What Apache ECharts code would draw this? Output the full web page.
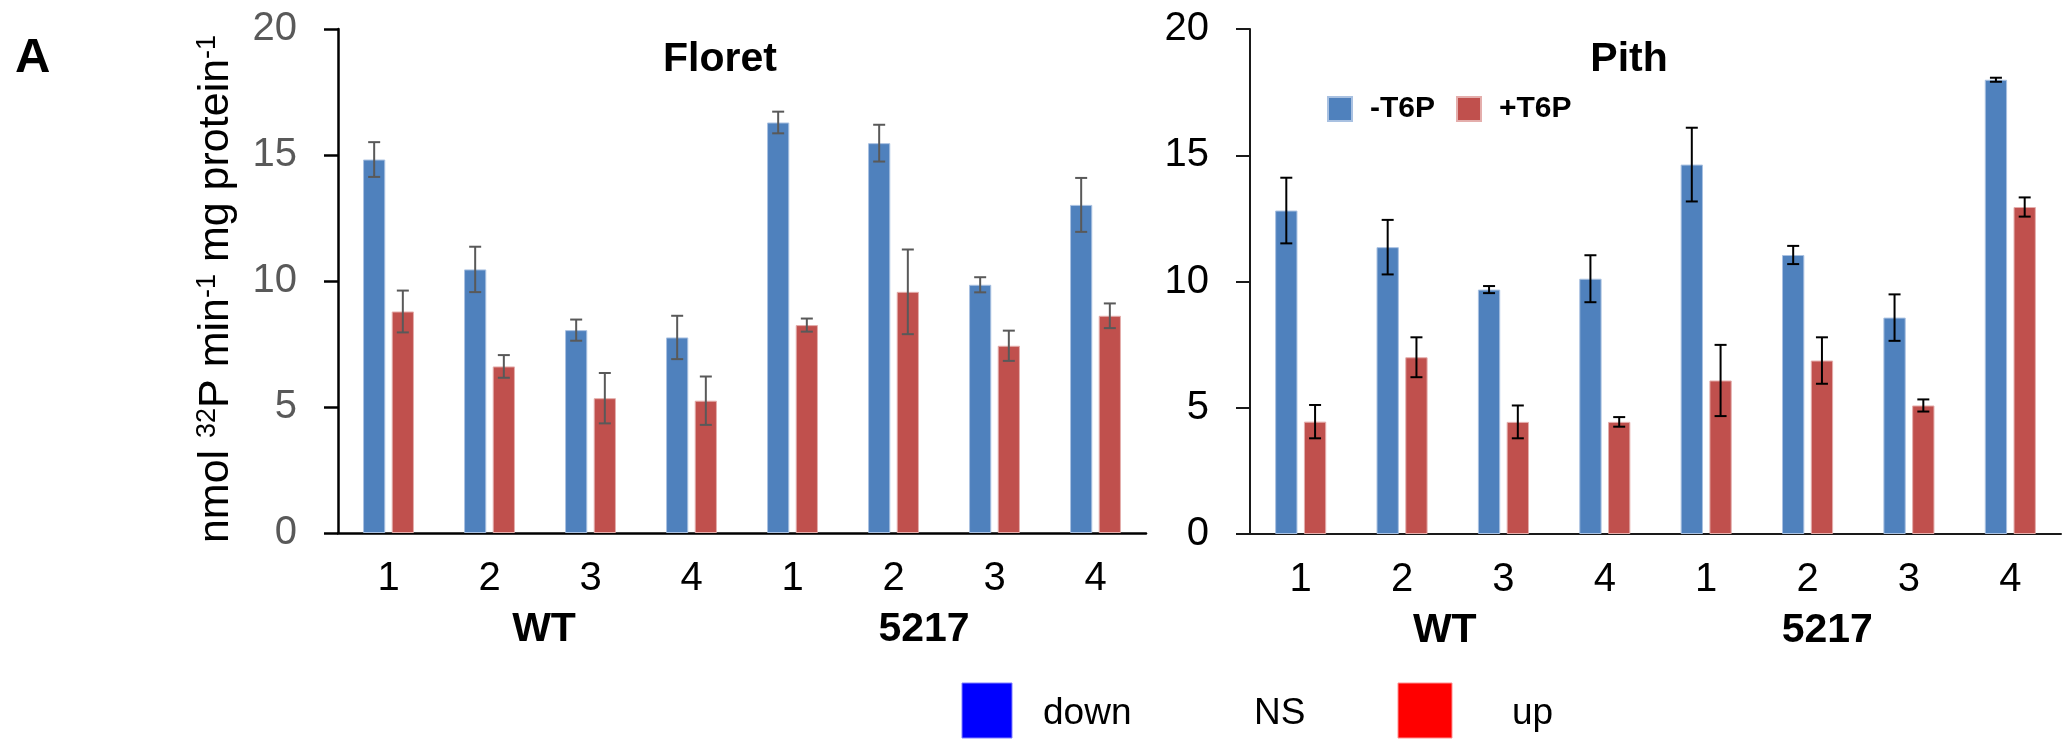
<!DOCTYPE html>
<html>
<head>
<meta charset="utf-8">
<script src="https://cdn.jsdelivr.net/npm/echarts@6/dist/echarts.min.js"></script>
<style>
  html, body { margin: 0; padding: 0; background: #ffffff; }
  #chart { width: 2066px; height: 740px; }
</style>
</head>
<body>
<div id="chart"></div>
<script>
// ---- data ----
const categories = ['1', '2', '3', '4', '1', '2', '3', '4'];
const groups = ['WT', '5217'];
const yTicks = [0, 5, 10, 15, 20];
const seriesNames = ['-T6P', '+T6P'];
const panelTitles = ['Floret', 'Pith'];
const yAxisTitle = ['nmol ', '32', 'P min', '-1', ' mg protein', '-1'];
const keyLabels = ['down', 'NS', 'up'];

// Floret
const floretMinus    = [14.82, 10.46, 8.05, 7.76, 16.29, 15.47, 9.85, 13.02];
const floretMinusErr = [0.69, 0.90, 0.42, 0.86, 0.43, 0.73, 0.30, 1.07];
const floretPlus     = [8.79, 6.61, 5.35, 5.25, 8.25, 9.57, 7.43, 8.62];
const floretPlusErr  = [0.83, 0.45, 1.00, 0.96, 0.26, 1.68, 0.60, 0.49];

// Pith
const pithMinus    = [12.81, 11.36, 9.68, 10.11, 14.63, 11.05, 8.57, 17.99];
const pithMinusErr = [1.30, 1.08, 0.14, 0.93, 1.46, 0.36, 0.92, 0.08];
const pithPlus     = [4.45, 7.00, 4.44, 4.44, 6.08, 6.87, 5.09, 12.95];
const pithPlusErr  = [0.66, 0.79, 0.65, 0.19, 1.41, 0.92, 0.24, 0.38];

// ---- styling / layout ----
const FONT = '"Liberation Sans", Arial, sans-serif';
const BLUE = '#4F81BD';
const RED = '#C0504D';
const BAR_W = 0.22;      // fraction of category band
const BAR_GAP = 0.29;    // fraction of bar width

const panels = [
  { grid: { left: 338, top: 29, width: 808, height: 504 },
    axisColor: '#000', axisWidth: 2.5, tickLabelColor: '#595959', errColor: '#595959',
    titleX: 720, groupShift: [4, -20],
    minus: floretMinus, minusErr: floretMinusErr, plus: floretPlus, plusErr: floretPlusErr },
  { grid: { left: 1250, top: 29, width: 811, height: 505 },
    axisColor: '#1a1a1a', axisWidth: 2, tickLabelColor: '#000', errColor: '#000',
    titleX: 1629, groupShift: [-8, -31],
    minus: pithMinus, minusErr: pithMinusErr, plus: pithPlus, plusErr: pithPlusErr }
];

function errorSeries(name, values, errs, p, side, color) {
  return {
    type: 'custom',
    name: name,
    xAxisIndex: p * 2,
    yAxisIndex: p,
    silent: true,
    z: 5,
    data: values.map((v, i) => [i, v, errs[i]]),
    encode: { x: 0, y: 1 },
    renderItem: function (params, api) {
      const i = api.value(0), v = api.value(1), e = api.value(2);
      const band = api.size([1, 0])[0];
      const off = side * band * (BAR_W + BAR_W * BAR_GAP) / 2;
      const hi = api.coord([i, v + e]);
      const lo = api.coord([i, v - e]);
      const x = hi[0] + off;
      const cap = 6;
      const st = { stroke: color, lineWidth: 2 };
      return {
        type: 'group',
        children: [
          { type: 'line', shape: { x1: x, y1: hi[1], x2: x, y2: lo[1] }, style: st },
          { type: 'line', shape: { x1: x - cap, y1: hi[1], x2: x + cap, y2: hi[1] }, style: st },
          { type: 'line', shape: { x1: x - cap, y1: lo[1], x2: x + cap, y2: lo[1] }, style: st }
        ]
      };
    }
  };
}

const grids = [], xAxes = [], yAxes = [], series = [];

panels.forEach((p, k) => {
  grids.push(Object.assign({ containLabel: false }, p.grid));

  // sample numbers
  xAxes.push({
    type: 'category', gridIndex: k, data: categories, position: 'bottom',
    axisLine: { show: true, lineStyle: { color: p.axisColor, width: p.axisWidth } },
    axisTick: { show: false },
    axisLabel: { fontSize: 40, color: '#000', fontFamily: FONT, margin: 26 },
    splitLine: { show: false }
  });

  // genotype groups
  const rich = {};
  groups.forEach((g, i) => {
    const s = p.groupShift[i];
    rich['g' + i] = {
      fontSize: 41, fontWeight: 'bold', color: '#000', fontFamily: FONT,
      padding: s < 0 ? [0, -2 * s, 0, 0] : [0, 0, 0, 2 * s]
    };
  });
  xAxes.push({
    type: 'category', gridIndex: k, data: groups, position: 'bottom',
    axisLine: { show: false }, axisTick: { show: false }, splitLine: { show: false },
    axisLabel: {
      margin: 76, interval: 0,
      formatter: (v, i) => '{g' + i + '|' + v + '}',
      rich: rich
    }
  });

  const yAxis = {
    type: 'value', gridIndex: k, min: yTicks[0], max: yTicks[yTicks.length - 1],
    interval: yTicks[1] - yTicks[0],
    axisLine: { show: true, lineStyle: { color: p.axisColor, width: p.axisWidth } },
    axisTick: { show: true, inside: false, length: 14, lineStyle: { color: p.axisColor, width: p.axisWidth } },
    axisLabel: { fontSize: 40, color: p.tickLabelColor, fontFamily: FONT, margin: 41 },
    splitLine: { show: false }
  };
  if (k === 0) {
    yAxis.name = '{a|' + yAxisTitle[0] + '}{s|' + yAxisTitle[1] + '}{a|' + yAxisTitle[2] + '}{s|' +
      yAxisTitle[3] + '}{a|' + yAxisTitle[4] + '}{s|' + yAxisTitle[5] + '}';
    yAxis.nameLocation = 'middle';
    yAxis.nameRotate = 90;
    yAxis.nameGap = 100;
    yAxis.nameTextStyle = {
      padding: [0, 16, 0, 0],
      rich: {
        a: { fontSize: 43, color: '#000', fontFamily: FONT, verticalAlign: 'bottom', lineHeight: 50 },
        s: { fontSize: 27, color: '#000', fontFamily: FONT, verticalAlign: 'bottom', lineHeight: 50, padding: [0, 0, 17, 0] }
      }
    };
  }
  yAxes.push(yAxis);

  series.push({
    type: 'bar', name: seriesNames[0], xAxisIndex: k * 2, yAxisIndex: k,
    data: p.minus, barWidth: (BAR_W * 100) + '%', barGap: (BAR_GAP * 100) + '%',
    itemStyle: { color: BLUE, borderColor: '#a9c1e1', borderWidth: 1 },
    emphasis: { disabled: true }
  });
  series.push({
    type: 'bar', name: seriesNames[1], xAxisIndex: k * 2, yAxisIndex: k,
    data: p.plus, barWidth: (BAR_W * 100) + '%', barGap: (BAR_GAP * 100) + '%',
    itemStyle: { color: RED, borderColor: '#e4aeac', borderWidth: 1 },
    emphasis: { disabled: true }
  });
  series.push(errorSeries(seriesNames[0] + ' err ' + k, p.minus, p.minusErr, k, -1, p.errColor));
  series.push(errorSeries(seriesNames[1] + ' err ' + k, p.plus, p.plusErr, k, 1, p.errColor));
});

const graphics = [
  { type: 'text', x: 15, y: 58, style: { text: 'A', font: 'bold 49px ' + FONT, fill: '#000', textVerticalAlign: 'middle' } },
  { type: 'text', x: panels[0].titleX, y: 60, style: { text: panelTitles[0], font: 'bold 41px ' + FONT, fill: '#000', textAlign: 'center', textVerticalAlign: 'middle' } },
  { type: 'text', x: panels[1].titleX, y: 60, style: { text: panelTitles[1], font: 'bold 41px ' + FONT, fill: '#000', textAlign: 'center', textVerticalAlign: 'middle' } },
  // colour key under the panels
  { type: 'rect', shape: { x: 962, y: 683, width: 50, height: 55 }, style: { fill: '#0000FF', stroke: '#8080ff', lineWidth: 1 } },
  { type: 'text', x: 1043, y: 714, style: { text: keyLabels[0], font: '37px ' + FONT, fill: '#000', textVerticalAlign: 'middle' } },
  { type: 'text', x: 1254, y: 714, style: { text: keyLabels[1], font: '37px ' + FONT, fill: '#000', textVerticalAlign: 'middle' } },
  { type: 'rect', shape: { x: 1398, y: 683, width: 54, height: 55 }, style: { fill: '#FF0000', stroke: '#ff9090', lineWidth: 1 } },
  { type: 'text', x: 1512, y: 714, style: { text: keyLabels[2], font: '37px ' + FONT, fill: '#000', textVerticalAlign: 'middle' } }
];

const chart = echarts.init(document.getElementById('chart'), null, { renderer: 'canvas' });
chart.setOption({
  animation: false,
  backgroundColor: '#ffffff',
  textStyle: { fontFamily: FONT },
  grid: grids,
  xAxis: xAxes,
  yAxis: yAxes,
  legend: {
    data: seriesNames, left: 1322, top: 89, icon: 'rect',
    itemWidth: 24, itemHeight: 24, itemGap: 21,
    textStyle: { fontSize: 30, fontWeight: 'bold', color: '#000', fontFamily: FONT, padding: [0, 0, 0, 13] }
  },
  graphic: graphics,
  series: series
});
</script>
</body>
</html>
